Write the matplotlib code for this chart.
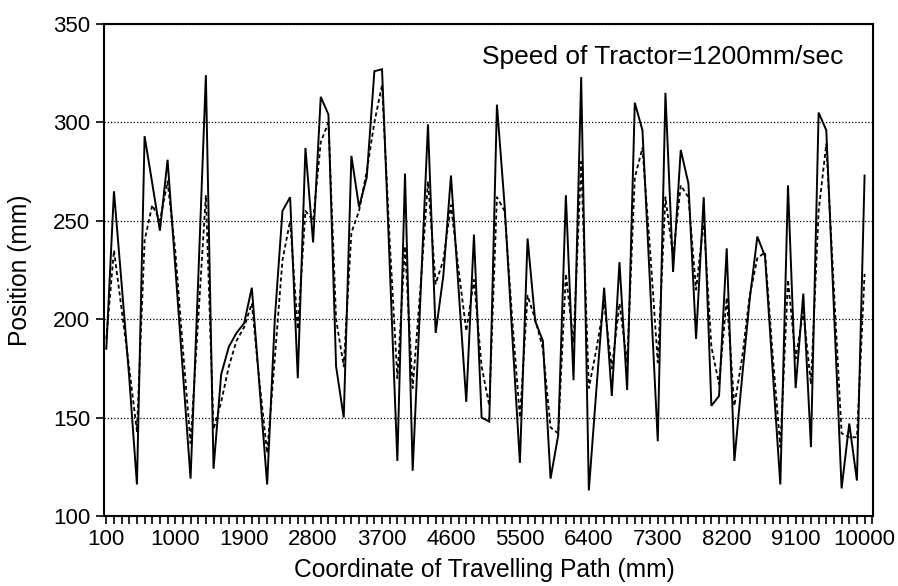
import matplotlib
matplotlib.use("Agg")
import matplotlib.pyplot as plt
from matplotlib.ticker import MultipleLocator

plt.rcParams['font.family'] = ['Liberation Sans', 'DejaVu Sans']

# Coordinate of travelling path (mm), one reading every 100 mm
path_mm = list(range(100, 10001, 100))

# Measured position (solid line)
position_solid = [
    185, 265, 218, 170, 116, 293, 269, 245, 281, 227,
    173, 119, 220, 324, 124, 172, 186, 193, 198, 216,
    166, 116, 200, 255, 262, 170, 287, 239, 313, 304,
    176, 150, 283, 257, 272, 326, 327, 228, 128, 274,
    123, 210, 299, 193, 222, 273, 215, 158, 243, 150,
    148, 309, 258, 192, 127, 241, 199, 189, 119, 141,
    263, 169, 323, 113, 165, 216, 161, 229, 164, 310,
    296, 217, 138, 315, 224, 286, 269, 190, 262, 156,
    161, 236, 128, 170, 210, 242, 232, 174, 116, 268,
    165, 213, 135, 305, 296, 205, 114, 147, 118, 273,
]

# Second position series (dashed line)
position_dashed = [
    190, 235, 205, 175, 143, 240, 258, 250, 270, 235,
    185, 137, 200, 263, 144, 158, 176, 189, 196, 208,
    168, 132, 180, 230, 250, 195, 255, 250, 290, 300,
    200, 176, 244, 255, 275, 300, 319, 240, 170, 237,
    165, 215, 270, 218, 230, 258, 225, 194, 220, 176,
    156, 262, 255, 200, 150, 212, 200, 185, 145, 142,
    223, 188, 280, 165, 185, 208, 175, 208, 178, 272,
    287, 235, 178, 262, 232, 268, 262, 215, 250, 186,
    167, 211, 156, 180, 212, 231, 234, 182, 135, 220,
    180, 204, 167, 255, 289, 215, 142, 140, 140, 223,
]

x_tick_values = list(range(100, 10001, 900))
x_tick_labels = ['100', '1000', '1900', '2800', '3700', '4600',
                 '5500', '6400', '7300', '8200', '9100', '10000']
y_tick_values = [100, 150, 200, 250, 300, 350]

W, H = 898, 586
fig = plt.figure(figsize=(W / 100, H / 100), dpi=100)
left, right, top, bottom = 104, 873, 24, 516
ax = fig.add_axes([left / W, 1 - bottom / H, (right - left) / W, (bottom - top) / H])

ax.plot(path_mm, position_solid, color='black', lw=1.4, solid_joinstyle='miter')
ax.plot(path_mm, position_dashed, color='black', lw=1.3, ls=(0, (2.2, 1.6)))

ax.set_xlim(70, 10110)
ax.set_ylim(100, 350)
ax.set_xticks(x_tick_values)
ax.set_xticklabels(x_tick_labels)
ax.xaxis.set_minor_locator(MultipleLocator(100))
ax.set_yticks(y_tick_values)

ax.tick_params(axis='x', which='both', direction='out', length=5.8, width=1.2,
               labelsize=16, pad=3.5)
ax.tick_params(axis='y', which='major', direction='out', length=6, width=1.2,
               labelsize=16, pad=4)

ax.yaxis.grid(True, linestyle=(0, (1, 1.6)), color='black', lw=0.9)
ax.set_axisbelow(True)
for s in ax.spines.values():
    s.set_linewidth(1.5)
    s.set_color('black')

fig.text(482 / W, 1 - 57 / H, 'Speed of Tractor=1200mm/sec', fontsize=19,
         ha='left', va='center')
fig.text(484 / W, 1 - 570 / H, 'Coordinate of Travelling Path (mm)', fontsize=17.7,
         ha='center', va='center')
fig.text(20 / W, 1 - 270 / H, 'Position (mm)', fontsize=17.7, rotation=90,
         ha='center', va='center')

fig.savefig('out.png', dpi=100)
